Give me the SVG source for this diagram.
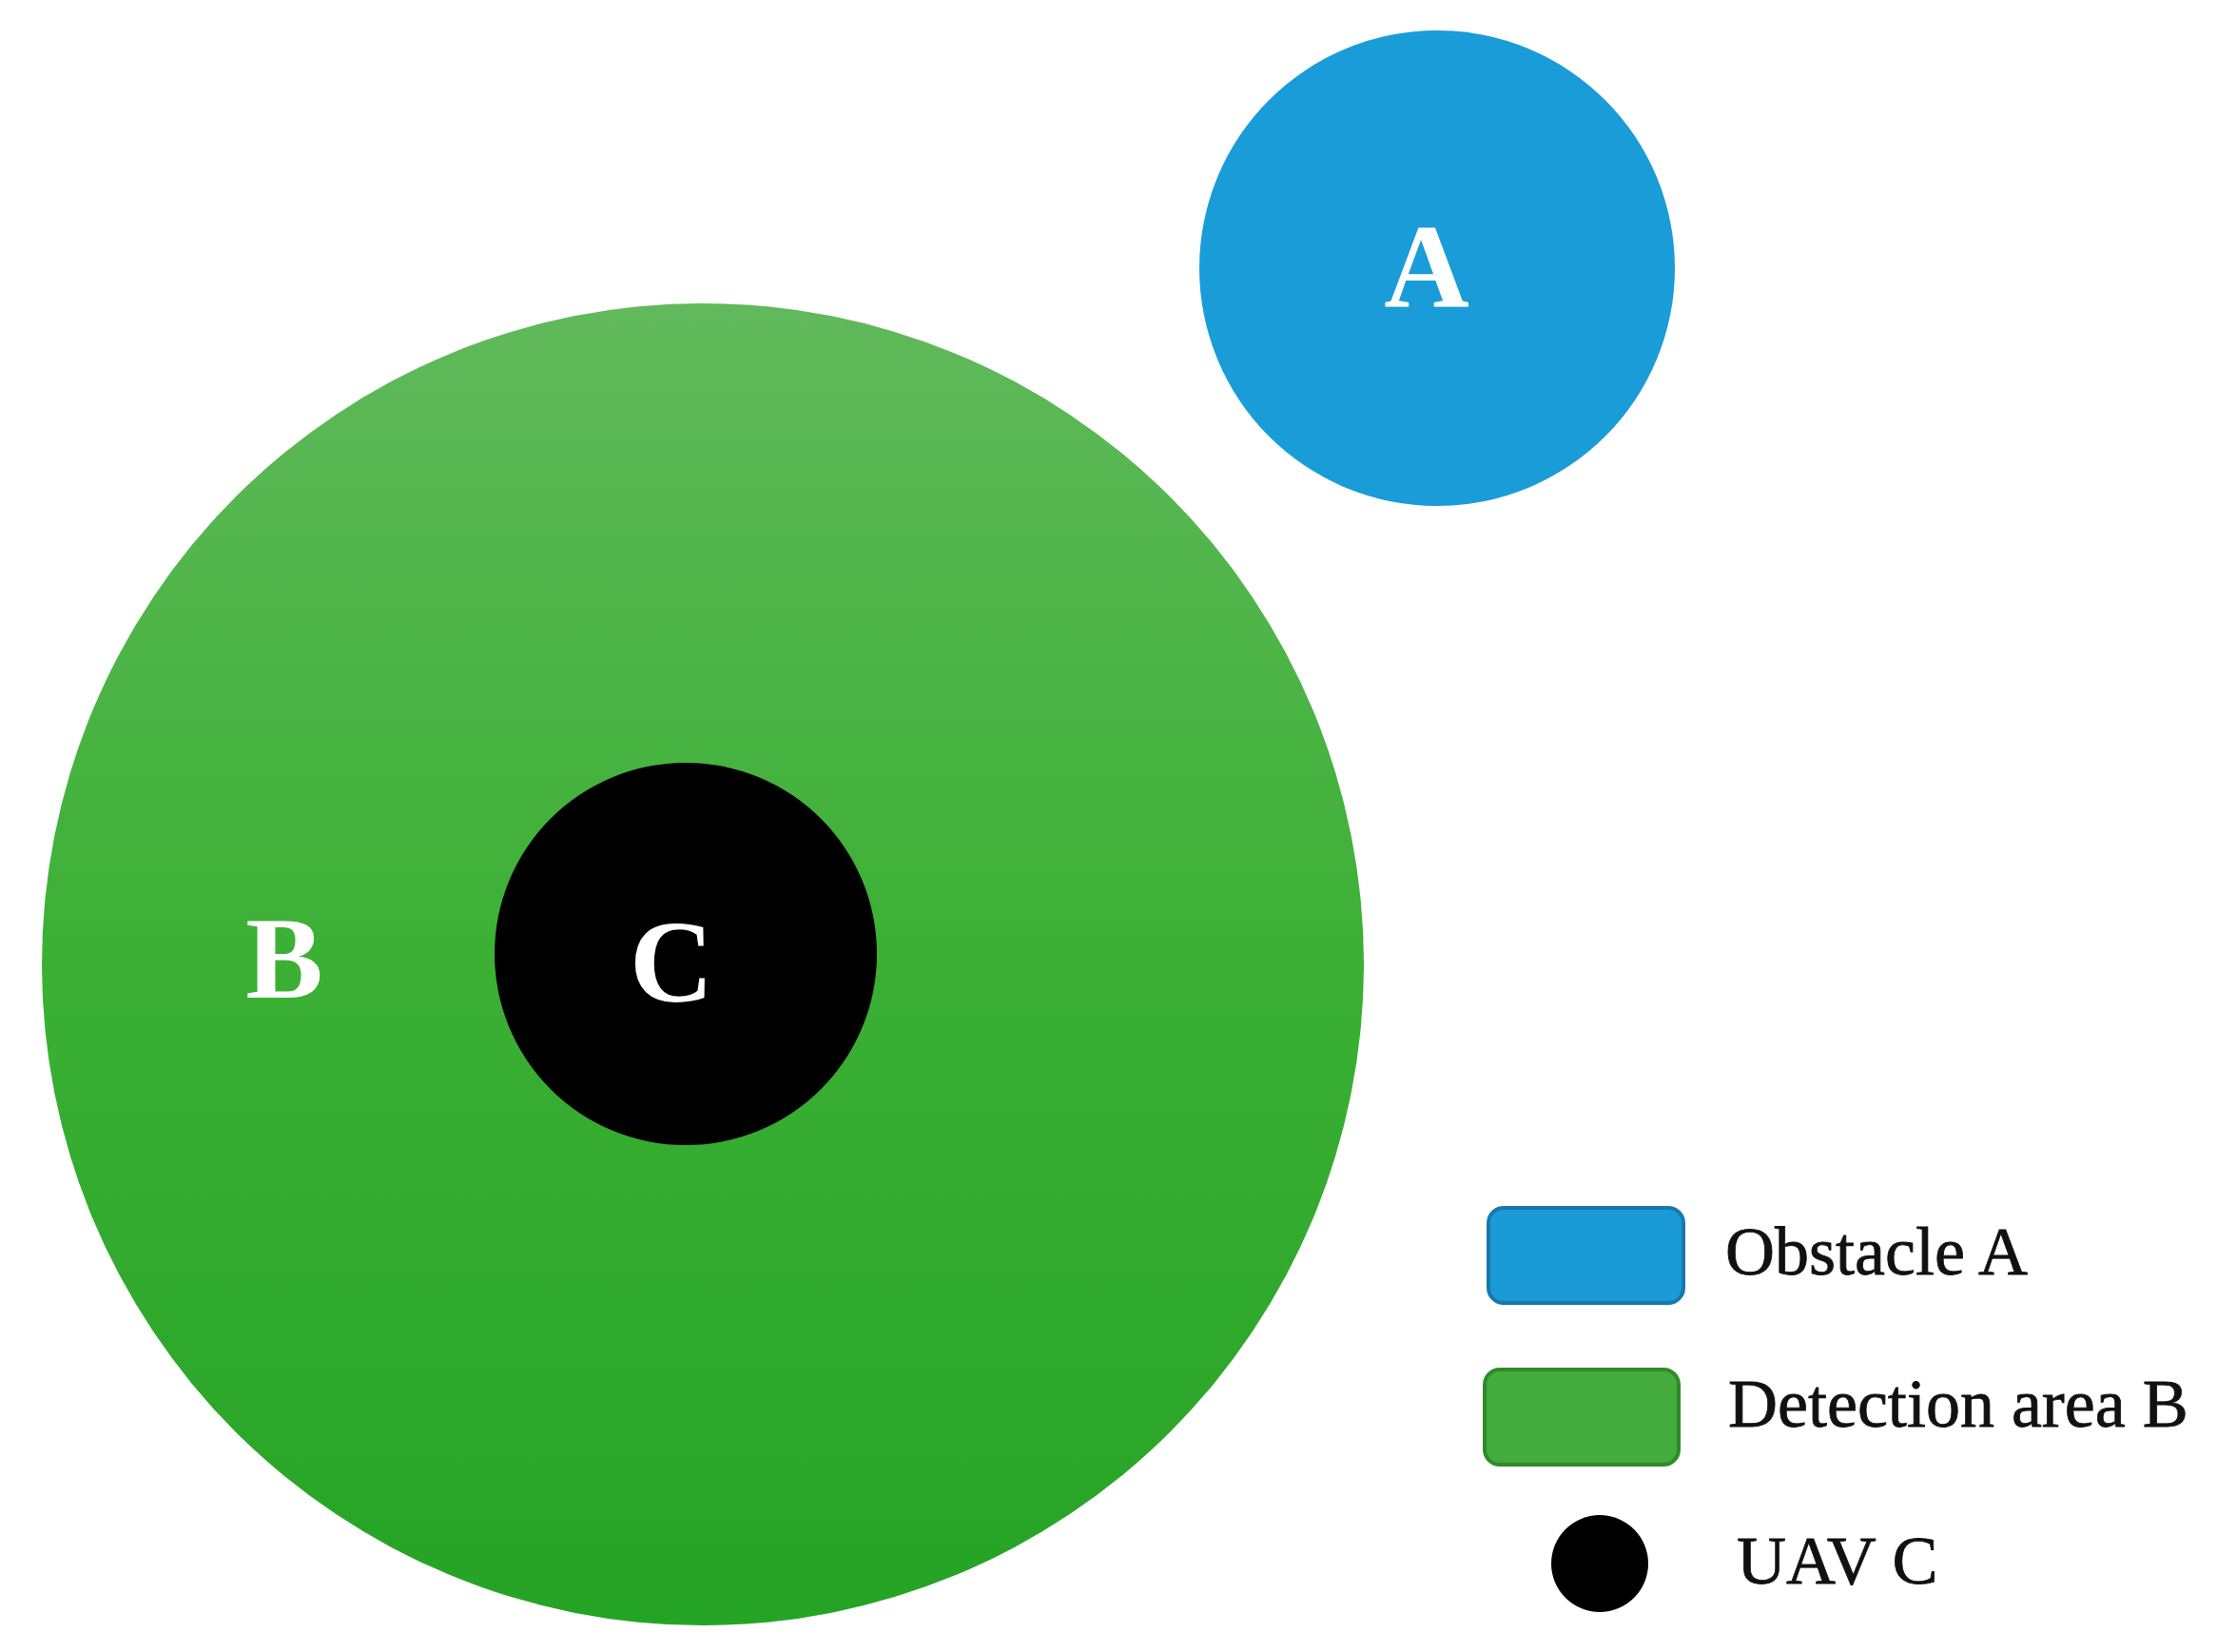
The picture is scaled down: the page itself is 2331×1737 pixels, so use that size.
<svg xmlns="http://www.w3.org/2000/svg" width="2331" height="1737" viewBox="0 0 2331 1737">
<style>
.lbl{font-family:"Liberation Serif","Times New Roman",serif;font-weight:bold;fill:#ffffff;text-anchor:middle}
.leg{font-family:"Liberation Serif","Times New Roman",serif;fill:#111111;stroke:#111111;stroke-width:0.8;font-size:72px}
</style>
<defs>
<linearGradient id="gB" x1="0" y1="0" x2="0" y2="1">
<stop offset="0" stop-color="#61b95b"/>
<stop offset="0.5" stop-color="#3bb034"/>
<stop offset="1" stop-color="#25a325"/>
</linearGradient>
</defs>
<rect width="2331" height="1737" fill="#ffffff"/>
<g id="obstacleA">
<circle cx="1511" cy="282" r="250" fill="#1a9cd8"/>
<text class="lbl" x="1500" y="322" font-size="124">A</text>
</g>
<g id="detectionB">
<circle cx="739" cy="1014" r="695" fill="url(#gB)"/>
<text class="lbl" x="299" y="1049" font-size="122">B</text>
</g>
<g id="uavC">
<circle cx="721" cy="1003" r="201" fill="#000000"/>
<text class="lbl" x="706" y="1053" font-size="122">C</text>
</g>
<g id="connectors"></g>
<g id="legend">
<g id="legend-obstacle">
<rect x="1565" y="1270" width="205" height="100" rx="16" fill="#1a9bd7" stroke="#1878ae" stroke-width="4"/>
<text class="leg" x="1814" y="1340">Obstacle A</text>
</g>
<g id="legend-detection">
<rect x="1561" y="1440" width="204" height="100" rx="16" fill="#43ac3c" stroke="#2f8a2c" stroke-width="4"/>
<text class="leg" x="1817" y="1500">Detection area B</text>
</g>
<g id="legend-uav">
<circle cx="1682" cy="1644" r="51" fill="#000000"/>
<text class="leg" x="1826" y="1665">UAV C</text>
</g>
</g>
</svg>
